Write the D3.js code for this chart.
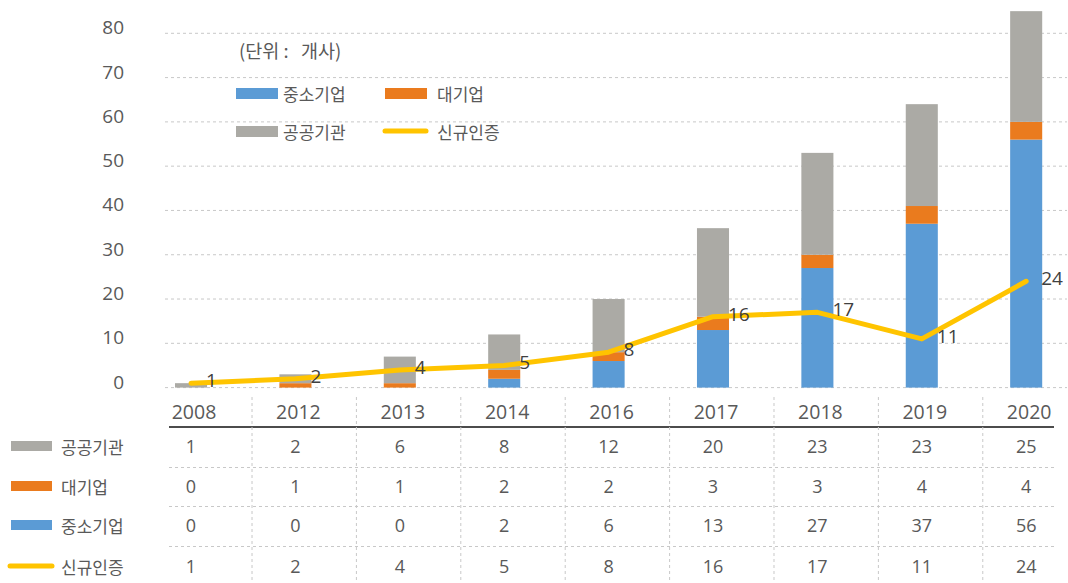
<!DOCTYPE html>
<html><head><meta charset="utf-8">
<script src="https://cdn.jsdelivr.net/npm/d3@7"></script>
<style>
html,body{margin:0;padding:0;background:#fff;}
svg text{font-family:"Open Sans","Noto Sans CJK KR",sans-serif;fill:#595959;}
svg text.kr{font-family:"Noto Sans CJK KR","Noto Sans",sans-serif;white-space:pre;}
</style></head>
<body><svg id="c" width="1068" height="583"></svg>
<script>
const years = ["2008","2012","2013","2014","2016","2017","2018","2019","2020"];
const sme = [0,0,0,2,6,13,27,37,56];        // 중소기업
const large = [0,1,1,2,2,3,3,4,4];          // 대기업
const pub = [1,2,6,8,12,20,23,23,25];       // 공공기관
const newCert = [1,2,4,5,8,16,17,11,24];    // 신규인증
const yTicks = [0,10,20,30,40,50,60,70,80];
const seriesNames = {sme:"중소기업", large:"대기업", pub:"공공기관", line:"신규인증"};
const unitLabel = "(단위 :   개사)";

const colors = {sme:"#5B9BD5", large:"#EA7B1E", pub:"#ABAAA5", line:"#FFC400"};

const svg = d3.select("#c");
const x = d3.scaleBand().domain(years).range([122.8,1094.4]).paddingInner(0.693).paddingOuter(0.5);
const y = d3.scaleLinear().domain([0,80]).range([387.6,33.3]);
const cx = d => x(d) + x.bandwidth()/2;

// gridlines
svg.append("g").selectAll("line").data(yTicks).join("line")
  .attr("x1",165).attr("x2",1067)
  .attr("y1",d=>y(d)).attr("y2",d=>y(d))
  .attr("stroke","#C8C8C8").attr("stroke-width",1).attr("stroke-dasharray","3,3");

// y axis labels
svg.append("g").selectAll("text").data(yTicks).join("text")
  .attr("x",124).attr("y",d=>y(d)-6)
  .attr("text-anchor","end").attr("dominant-baseline","central")
  .style("font-size","19px").text(d=>d);

// stacked bars
const rows = years.map((yr,i)=>({year:yr, sme:sme[i], large:large[i], pub:pub[i]}));
const stack = d3.stack().keys(["sme","large","pub"])(rows);
svg.append("g").selectAll("g").data(stack).join("g")
  .attr("fill",s=>colors[s.key])
  .selectAll("rect").data(s=>s).join("rect")
  .attr("x",d=>x(d.data.year)).attr("width",x.bandwidth())
  .attr("y",d=>y(d[1])).attr("height",d=>Math.max(0,y(d[0])-y(d[1])));

// line
const line = d3.line().x((d,i)=>cx(years[i])).y(d=>y(d));
svg.append("path").datum(newCert).attr("d",line)
  .attr("fill","none").attr("stroke",colors.line).attr("stroke-width",5).attr("stroke-linejoin","round").attr("stroke-linecap","round");
svg.append("g").selectAll("text").data(newCert).join("text")
  .attr("x",(d,i)=>cx(years[i])+15).attr("y",d=>y(d)-3)
  .attr("dominant-baseline","central")
  .style("font-size","19px").style("fill","#404040").text(d=>d);

// x axis labels
svg.append("g").selectAll("text").data(years).join("text")
  .attr("x",d=>cx(d)+3).attr("y",411)
  .attr("text-anchor","middle").attr("dominant-baseline","central")
  .style("font-size","19.5px").text(d=>d);

// table
const tableRows = [
  {key:"pub", vals:pub},
  {key:"large", vals:large},
  {key:"sme", vals:sme},
  {key:"line", vals:newCert}
];
const rowY = [446,486,525,566];
const sepY = [467.5,506.5,546.5];
svg.append("line").attr("x1",169).attr("x2",1054).attr("y1",427).attr("y2",427).attr("stroke","#111").attr("stroke-width",1.5);
svg.append("g").selectAll("line").data(sepY).join("line")
  .attr("x1",169).attr("x2",1054).attr("y1",d=>d).attr("y2",d=>d)
  .attr("stroke","#C8C8C8").attr("stroke-dasharray","3,3");
svg.append("g").selectAll("line").data(years.slice(0,-1)).join("line")
  .attr("x1",d=>cx(d)+61).attr("x2",d=>cx(d)+61).attr("y1",397).attr("y2",583)
  .attr("stroke","#C8C8C8").attr("stroke-dasharray","3,3");

tableRows.forEach((r,ri)=>{
  const g = svg.append("g");
  if(r.key==="line"){
    g.append("line").attr("x1",10).attr("x2",52).attr("y1",rowY[ri]).attr("y2",rowY[ri])
      .attr("stroke",colors.line).attr("stroke-width",5).attr("stroke-linecap","round");
  } else {
    g.append("rect").attr("x",11).attr("y",rowY[ri]-5).attr("width",41).attr("height",10).attr("fill",colors[r.key]);
  }
  g.append("text").attr("class","kr").attr("x",61).attr("y",rowY[ri]).attr("dominant-baseline","central")
    .style("font-size","17px").text(seriesNames[r.key]);
  g.selectAll("text.v").data(r.vals).join("text").attr("class","v")
    .attr("x",(d,i)=>cx(years[i])).attr("y",rowY[ri])
    .attr("text-anchor","middle").attr("dominant-baseline","central")
    .style("font-size","18px").text(d=>d);
});

// top legend
const lg = svg.append("g");
lg.append("text").attr("class","kr").attr("x",239).attr("y",50).attr("dominant-baseline","central").style("font-size","18.5px").text(unitLabel);
const legItems = [
  {key:"sme", x:236, y:93},
  {key:"large", x:385, y:93},
  {key:"pub", x:236, y:131},
  {key:"line", x:385, y:131}
];
legItems.forEach(it=>{
  if(it.key==="line"){
    lg.append("line").attr("x1",it.x).attr("x2",it.x+41).attr("y1",it.y).attr("y2",it.y)
      .attr("stroke",colors.line).attr("stroke-width",5).attr("stroke-linecap","round");
  } else {
    lg.append("rect").attr("x",it.x).attr("y",it.y-5).attr("width",42).attr("height",11).attr("fill",colors[it.key]);
  }
  lg.append("text").attr("class","kr").attr("x",it.x+(it.key==="sme"||it.key==="pub"?47:52)).attr("y",it.y).attr("dominant-baseline","central")
    .style("font-size","17px").text(seriesNames[it.key]);
});
</script></body></html>
